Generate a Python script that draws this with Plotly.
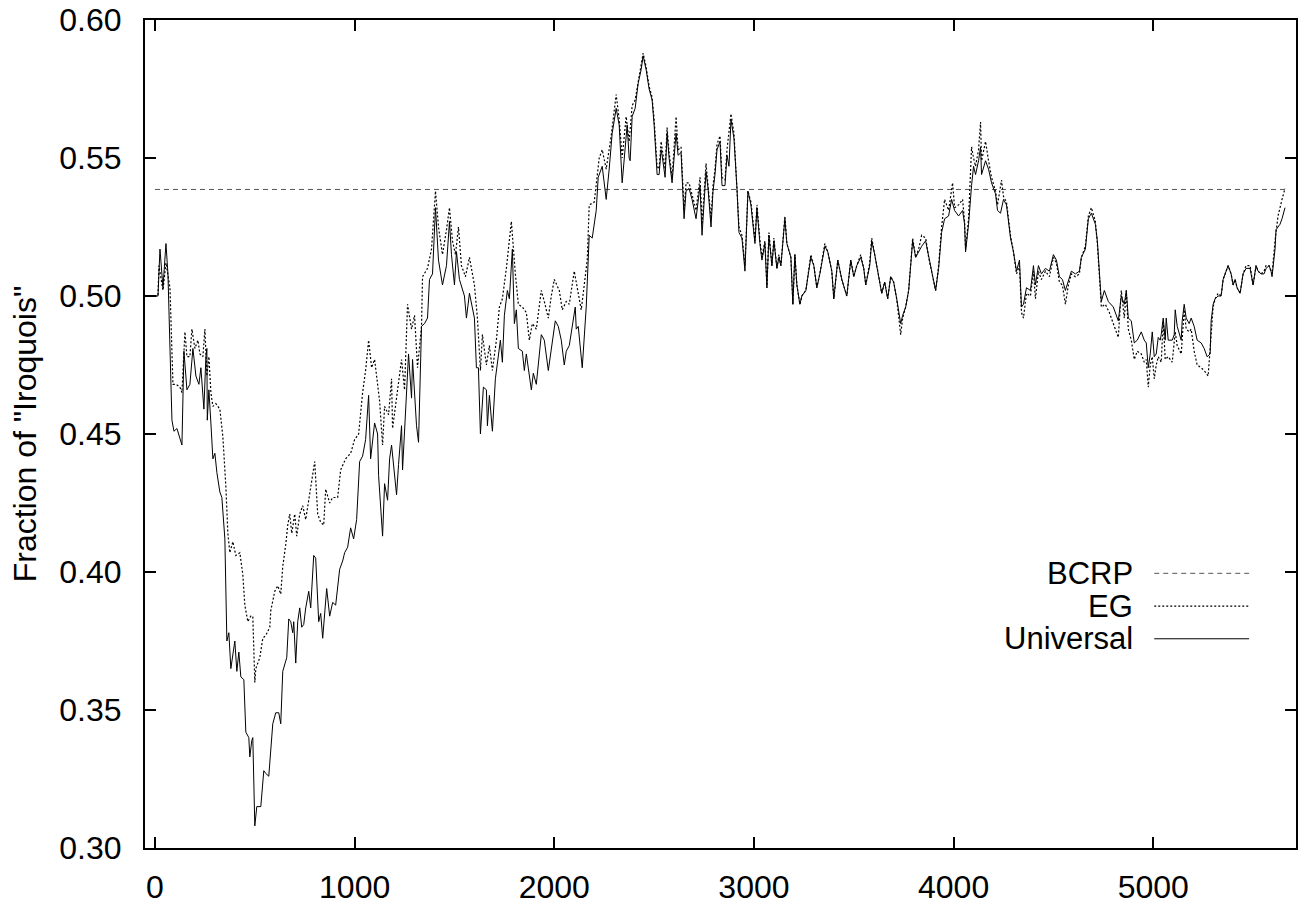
import plotly.graph_objects as go

# ---------------- data ----------------
bcrp_x = [0, 5660]
bcrp_y = [0.5386, 0.5386]

univ_x = [0, 15, 25, 40, 55, 65, 85, 95, 110, 135, 145, 160, 175, 190, 205, 220, 230, 245, 255, 260,
          262, 270, 280, 290, 300, 310, 325, 335, 350, 360, 370, 380, 400, 410, 420, 430, 445, 455, 470, 475,
          485, 490, 500, 510, 530, 545, 555, 570, 590, 605, 620, 630, 640, 660, 670, 680, 690, 695, 705, 715,
          725, 735, 745, 755, 770, 780, 795, 805, 820, 830, 840, 860, 875, 890, 905, 925, 940, 950, 965, 980,
          995, 1010, 1025, 1040, 1055, 1070, 1080, 1100, 1115, 1120, 1140, 1150, 1165, 1175, 1185, 1210, 1220, 1235, 1240, 1260,
          1270, 1285, 1290, 1310, 1320, 1335, 1350, 1365, 1375, 1390, 1405, 1420, 1440, 1460, 1475, 1485, 1500, 1510, 1525, 1550,
          1560, 1575, 1600, 1610, 1620, 1630, 1645, 1660, 1665, 1675, 1690, 1705, 1720, 1730, 1740, 1750, 1765, 1775, 1790, 1800,
          1810, 1820, 1840, 1850, 1860, 1885, 1895, 1910, 1935, 1950, 1970, 1990, 2005, 2020, 2035, 2050, 2060, 2075, 2105, 2110,
          2120, 2140, 2160, 2175, 2190, 2210, 2220, 2240, 2260, 2275, 2290, 2310, 2325, 2340, 2355, 2365, 2375, 2380, 2390, 2405,
          2420, 2435, 2445, 2460, 2475, 2490, 2500, 2515, 2525, 2535, 2540, 2555, 2565, 2575, 2590, 2610, 2620, 2635, 2650, 2660,
          2675, 2690, 2710, 2730, 2740, 2760, 2770, 2785, 2795, 2805, 2815, 2830, 2840, 2855, 2865, 2875, 2885, 2900, 2915, 2925,
          2940, 2955, 2970, 2985, 3005, 3015, 3030, 3040, 3055, 3065, 3075, 3090, 3100, 3115, 3125, 3135, 3155, 3165, 3185, 3195,
          3205, 3215, 3230, 3240, 3260, 3285, 3300, 3315, 3330, 3355, 3370, 3390, 3400, 3420, 3440, 3465, 3485, 3500, 3515, 3535,
          3550, 3560, 3580, 3590, 3605, 3620, 3640, 3655, 3670, 3685, 3700, 3715, 3735, 3745, 3760, 3775, 3795, 3810, 3825, 3840,
          3860, 3875, 3890, 3910, 3925, 3940, 3955, 3975, 3990, 4005, 4025, 4045, 4055, 4060, 4075, 4090, 4100, 4110, 4125, 4135,
          4140, 4160, 4175, 4190, 4210, 4220, 4235, 4250, 4265, 4285, 4300, 4315, 4330, 4340, 4350, 4365, 4385, 4400, 4410, 4425,
          4440, 4460, 4480, 4500, 4515, 4530, 4545, 4560, 4575, 4590, 4610, 4630, 4640, 4660, 4675, 4690, 4710, 4720, 4740, 4755,
          4775, 4800, 4825, 4840, 4855, 4865, 4875, 4890, 4905, 4920, 4940, 4955, 4965, 4975, 4985, 4995, 5005, 5015, 5025, 5035,
          5040, 5050, 5060, 5065, 5075, 5085, 5095, 5105, 5110, 5120, 5130, 5140, 5145, 5155, 5165, 5180, 5190, 5205, 5220, 5240,
          5255, 5270, 5285, 5290, 5300, 5310, 5325, 5340, 5350, 5360, 5375, 5390, 5400, 5410, 5420, 5435, 5450, 5465, 5485, 5500,
          5515, 5525, 5540, 5555, 5565, 5580, 5590, 5595, 5610, 5615, 5635, 5645, 5660]
univ_y = [0.500, 0.500, 0.517, 0.503, 0.519, 0.508, 0.455, 0.451, 0.452, 0.446, 0.480, 0.466, 0.468, 0.481, 0.471, 0.468, 0.474, 0.459, 0.478, 0.481,
          0.455, 0.466, 0.454, 0.441, 0.443, 0.436, 0.429, 0.427, 0.412, 0.375, 0.378, 0.365, 0.375, 0.364, 0.371, 0.362, 0.361, 0.342, 0.340, 0.333,
          0.339, 0.340, 0.308, 0.315, 0.315, 0.328, 0.327, 0.326, 0.345, 0.349, 0.349, 0.345, 0.364, 0.369, 0.383, 0.382, 0.378, 0.382, 0.367, 0.382,
          0.387, 0.380, 0.381, 0.387, 0.393, 0.387, 0.406, 0.405, 0.382, 0.385, 0.376, 0.394, 0.384, 0.389, 0.388, 0.401, 0.404, 0.407, 0.409, 0.416,
          0.412, 0.419, 0.440, 0.442, 0.448, 0.464, 0.441, 0.454, 0.450, 0.435, 0.413, 0.432, 0.426, 0.441, 0.446, 0.428, 0.439, 0.453, 0.437, 0.464,
          0.479, 0.463, 0.477, 0.453, 0.447, 0.489, 0.490, 0.492, 0.506, 0.508, 0.532, 0.513, 0.504, 0.511, 0.527, 0.515, 0.504, 0.516, 0.506, 0.500,
          0.492, 0.501, 0.492, 0.474, 0.474, 0.450, 0.467, 0.466, 0.453, 0.464, 0.451, 0.470, 0.478, 0.484, 0.476, 0.493, 0.502, 0.499, 0.517, 0.490,
          0.495, 0.481, 0.480, 0.473, 0.479, 0.466, 0.472, 0.468, 0.486, 0.484, 0.473, 0.484, 0.491, 0.489, 0.484, 0.475, 0.480, 0.482, 0.496, 0.488,
          0.489, 0.474, 0.496, 0.522, 0.521, 0.531, 0.543, 0.547, 0.535, 0.546, 0.559, 0.568, 0.562, 0.541, 0.554, 0.562, 0.550, 0.549, 0.565, 0.568,
          0.577, 0.582, 0.587, 0.582, 0.575, 0.571, 0.562, 0.544, 0.544, 0.553, 0.551, 0.543, 0.559, 0.550, 0.541, 0.559, 0.551, 0.552, 0.528, 0.538,
          0.539, 0.535, 0.528, 0.540, 0.522, 0.545, 0.539, 0.525, 0.538, 0.544, 0.553, 0.556, 0.540, 0.540, 0.551, 0.547, 0.564, 0.557, 0.539, 0.523,
          0.521, 0.509, 0.538, 0.533, 0.519, 0.532, 0.519, 0.513, 0.519, 0.503, 0.522, 0.511, 0.520, 0.510, 0.514, 0.511, 0.528, 0.519, 0.514, 0.497,
          0.515, 0.504, 0.497, 0.500, 0.502, 0.514, 0.511, 0.503, 0.508, 0.518, 0.516, 0.509, 0.499, 0.513, 0.506, 0.500, 0.513, 0.507, 0.511, 0.514,
          0.510, 0.504, 0.511, 0.520, 0.515, 0.509, 0.501, 0.505, 0.499, 0.507, 0.505, 0.499, 0.490, 0.493, 0.496, 0.502, 0.520, 0.514, 0.516, 0.518,
          0.520, 0.514, 0.509, 0.502, 0.510, 0.523, 0.528, 0.529, 0.535, 0.531, 0.529, 0.531, 0.526, 0.516, 0.526, 0.540, 0.547, 0.544, 0.549, 0.554,
          0.544, 0.549, 0.546, 0.541, 0.537, 0.531, 0.530, 0.535, 0.533, 0.521, 0.516, 0.509, 0.513, 0.496, 0.497, 0.503, 0.502, 0.511, 0.504, 0.511,
          0.508, 0.510, 0.509, 0.515, 0.513, 0.507, 0.506, 0.502, 0.506, 0.509, 0.508, 0.509, 0.514, 0.517, 0.528, 0.530, 0.526, 0.520, 0.498, 0.502,
          0.498, 0.496, 0.491, 0.500, 0.497, 0.502, 0.492, 0.491, 0.483, 0.484, 0.487, 0.484, 0.483, 0.474, 0.479, 0.487, 0.478, 0.479, 0.485, 0.484,
          0.486, 0.492, 0.484, 0.492, 0.484, 0.484, 0.484, 0.486, 0.495, 0.489, 0.486, 0.484, 0.491, 0.497, 0.492, 0.490, 0.492, 0.489, 0.484, 0.483,
          0.481, 0.478, 0.479, 0.491, 0.497, 0.499, 0.500, 0.500, 0.506, 0.508, 0.511, 0.508, 0.504, 0.506, 0.503, 0.501, 0.508, 0.510, 0.510, 0.504,
          0.511, 0.509, 0.508, 0.508, 0.510, 0.511, 0.509, 0.507, 0.517, 0.524, 0.526, 0.528, 0.532]

eg_x = [0, 15, 20, 40, 55, 75, 90, 105, 125, 135, 150, 160, 175, 185, 200, 215, 225, 240, 250, 260,
        270, 280, 290, 305, 325, 340, 355, 365, 375, 390, 405, 425, 440, 450, 465, 480, 490, 500, 505, 525,
        540, 555, 575, 580, 600, 615, 630, 640, 655, 665, 675, 685, 700, 710, 725, 740, 755, 775, 800, 815,
        830, 845, 855, 875, 890, 915, 930, 955, 980, 1000, 1020, 1040, 1055, 1070, 1085, 1100, 1125, 1140, 1150, 1170,
        1185, 1190, 1215, 1235, 1250, 1265, 1285, 1300, 1315, 1335, 1340, 1365, 1385, 1405, 1420, 1440, 1460, 1475, 1490, 1505,
        1520, 1535, 1555, 1575, 1600, 1615, 1630, 1640, 1660, 1675, 1690, 1710, 1725, 1740, 1760, 1785, 1805, 1820, 1840, 1860,
        1875, 1890, 1910, 1935, 1950, 1970, 1985, 2000, 2025, 2040, 2060, 2075, 2100, 2115, 2135, 2150, 2165, 2175, 2200, 2225,
        2240, 2260, 2285, 2310, 2325, 2340, 2360, 2375, 2390, 2405, 2420, 2435, 2445, 2460, 2475, 2490, 2500, 2515, 2525, 2535,
        2555, 2565, 2575, 2590, 2610, 2620, 2635, 2650, 2660, 2675, 2690, 2710, 2730, 2740, 2760, 2770, 2785, 2795, 2805, 2815,
        2830, 2840, 2855, 2865, 2885, 2900, 2915, 2925, 2940, 2955, 2970, 2985, 3005, 3015, 3030, 3040, 3055, 3065, 3075, 3090,
        3100, 3115, 3125, 3135, 3155, 3165, 3185, 3195, 3205, 3215, 3230, 3240, 3260, 3285, 3300, 3315, 3330, 3355, 3370, 3390,
        3400, 3420, 3440, 3465, 3485, 3500, 3515, 3535, 3550, 3560, 3580, 3590, 3605, 3620, 3640, 3655, 3670, 3685, 3700, 3715,
        3735, 3745, 3760, 3775, 3795, 3810, 3825, 3840, 3860, 3875, 3890, 3910, 3925, 3940, 3955, 3975, 3995, 4005, 4025, 4045,
        4055, 4060, 4075, 4090, 4100, 4110, 4125, 4135, 4140, 4160, 4175, 4190, 4210, 4220, 4240, 4250, 4265, 4285, 4300, 4315,
        4330, 4340, 4350, 4365, 4385, 4400, 4410, 4425, 4440, 4460, 4480, 4500, 4515, 4530, 4545, 4560, 4575, 4590, 4610, 4630,
        4640, 4660, 4675, 4690, 4710, 4720, 4740, 4760, 4780, 4800, 4825, 4840, 4855, 4865, 4875, 4890, 4905, 4920, 4940, 4955,
        4965, 4975, 4985, 4995, 5005, 5015, 5025, 5040, 5050, 5060, 5075, 5095, 5110, 5120, 5140, 5155, 5165, 5180, 5190, 5205,
        5220, 5240, 5255, 5275, 5285, 5300, 5310, 5325, 5340, 5350, 5360, 5375, 5390, 5400, 5410, 5420, 5435, 5450, 5465, 5485,
        5500, 5515, 5525, 5540, 5555, 5565, 5580, 5590, 5595, 5610, 5625, 5645, 5660]
eg_y = [0.500, 0.500, 0.511, 0.502, 0.512, 0.503, 0.468, 0.468, 0.467, 0.465, 0.487, 0.478, 0.478, 0.488, 0.481, 0.484, 0.479, 0.478, 0.488, 0.471,
        0.478, 0.465, 0.460, 0.461, 0.459, 0.449, 0.431, 0.414, 0.407, 0.411, 0.406, 0.407, 0.399, 0.388, 0.382, 0.384, 0.384, 0.360, 0.365, 0.369,
        0.376, 0.377, 0.380, 0.386, 0.393, 0.395, 0.392, 0.402, 0.410, 0.417, 0.421, 0.414, 0.421, 0.413, 0.421, 0.424, 0.419, 0.428, 0.440, 0.421,
        0.418, 0.417, 0.430, 0.425, 0.427, 0.427, 0.437, 0.441, 0.443, 0.448, 0.450, 0.465, 0.473, 0.484, 0.474, 0.477, 0.462, 0.446, 0.460, 0.457,
        0.470, 0.452, 0.466, 0.477, 0.466, 0.497, 0.488, 0.493, 0.474, 0.489, 0.507, 0.510, 0.517, 0.538, 0.525, 0.515, 0.524, 0.532, 0.520, 0.515,
        0.525, 0.511, 0.507, 0.514, 0.504, 0.492, 0.473, 0.486, 0.475, 0.482, 0.473, 0.484, 0.496, 0.499, 0.510, 0.527, 0.508, 0.497, 0.496, 0.494,
        0.484, 0.490, 0.488, 0.502, 0.498, 0.492, 0.500, 0.506, 0.502, 0.495, 0.498, 0.497, 0.509, 0.503, 0.495, 0.504, 0.513, 0.533, 0.534, 0.550,
        0.553, 0.546, 0.558, 0.573, 0.564, 0.550, 0.565, 0.556, 0.569, 0.571, 0.578, 0.584, 0.588, 0.583, 0.576, 0.572, 0.564, 0.547, 0.546, 0.556,
        0.546, 0.561, 0.552, 0.543, 0.565, 0.553, 0.554, 0.531, 0.541, 0.541, 0.537, 0.531, 0.543, 0.526, 0.548, 0.541, 0.528, 0.540, 0.546, 0.555,
        0.558, 0.543, 0.542, 0.553, 0.566, 0.559, 0.541, 0.525, 0.522, 0.511, 0.538, 0.534, 0.520, 0.533, 0.520, 0.514, 0.520, 0.503, 0.523, 0.511,
        0.521, 0.510, 0.515, 0.511, 0.529, 0.519, 0.514, 0.497, 0.515, 0.504, 0.497, 0.500, 0.502, 0.515, 0.511, 0.503, 0.508, 0.519, 0.516, 0.509,
        0.499, 0.513, 0.506, 0.500, 0.513, 0.507, 0.511, 0.515, 0.510, 0.504, 0.512, 0.521, 0.515, 0.509, 0.501, 0.505, 0.499, 0.507, 0.505, 0.499,
        0.486, 0.492, 0.496, 0.502, 0.521, 0.514, 0.517, 0.522, 0.521, 0.514, 0.509, 0.502, 0.511, 0.525, 0.535, 0.531, 0.541, 0.532, 0.533, 0.535,
        0.527, 0.517, 0.528, 0.554, 0.550, 0.547, 0.553, 0.563, 0.549, 0.556, 0.549, 0.543, 0.538, 0.533, 0.542, 0.536, 0.534, 0.522, 0.516, 0.508,
        0.511, 0.494, 0.492, 0.501, 0.500, 0.509, 0.499, 0.509, 0.506, 0.509, 0.507, 0.514, 0.512, 0.505, 0.504, 0.497, 0.504, 0.508, 0.507, 0.508,
        0.514, 0.518, 0.529, 0.532, 0.527, 0.519, 0.496, 0.497, 0.494, 0.490, 0.485, 0.502, 0.492, 0.502, 0.488, 0.484, 0.477, 0.480, 0.479, 0.476,
        0.477, 0.467, 0.475, 0.478, 0.470, 0.475, 0.478, 0.476, 0.491, 0.477, 0.478, 0.476, 0.487, 0.482, 0.479, 0.495, 0.488, 0.487, 0.488, 0.480,
        0.475, 0.474, 0.473, 0.471, 0.481, 0.496, 0.499, 0.501, 0.500, 0.506, 0.508, 0.511, 0.508, 0.504, 0.506, 0.503, 0.501, 0.508, 0.511, 0.511,
        0.504, 0.511, 0.509, 0.508, 0.509, 0.511, 0.511, 0.509, 0.508, 0.520, 0.529, 0.535, 0.539]

series_names = ["BCRP", "EG", "Universal"]
y_ticks = [0.30, 0.35, 0.40, 0.45, 0.50, 0.55, 0.60]
x_ticks = [0, 1000, 2000, 3000, 4000, 5000]

# ---------------- figure ----------------
FONT = "Liberation Sans, Arial, Helvetica, sans-serif"
dash_bcrp = "5px,4px"
dash_eg = "2px,2px"

fig = go.Figure()
fig.add_trace(go.Scatter(x=bcrp_x, y=bcrp_y, mode="lines", name=series_names[0],
                         line=dict(color="#555555", width=1, dash=dash_bcrp)))
fig.add_trace(go.Scatter(x=eg_x, y=eg_y, mode="lines", name=series_names[1],
                         line=dict(color="#000000", width=1.2, dash=dash_eg)))
fig.add_trace(go.Scatter(x=univ_x, y=univ_y, mode="lines", name=series_names[2],
                         line=dict(color="#000000", width=1)))

W, H = 1298, 905
ML, MR, MT, MB = 145, 0, 20, 50
pw, ph = W - ML - MR, H - MT - MB

def px2paper_x(px):
    return (px - ML) / pw

def px2paper_y(py):
    return (H - MB - py) / ph

# gnuplot-style key: text right-aligned, then line sample
key_rows = [(series_names[0], 578, "#555555", dash_bcrp, 1),
            (series_names[1], 611, "#000000", dash_eg, 1.2),
            (series_names[2], 644, "#000000", "solid", 1)]
for name, py, col, dsh, wd in key_rows:
    fig.add_annotation(x=px2paper_x(1136), y=px2paper_y(py), xref="paper", yref="paper",
                       text=name, showarrow=False, xanchor="right", yanchor="middle",
                       borderpad=0,
                       font=dict(family=FONT, size=31, color="black"))
    fig.add_shape(type="line", xref="paper", yref="paper",
                  x0=px2paper_x(1156), x1=px2paper_x(1251), y0=px2paper_y(py), y1=px2paper_y(py),
                  line=dict(color=col, width=wd, dash=dsh))

fig.update_layout(
    width=W, height=H,
    margin=dict(l=ML, r=MR, t=MT, b=MB, pad=0),
    paper_bgcolor="white", plot_bgcolor="white",
    showlegend=False,
    font=dict(family=FONT, size=32, color="black"),
)
fig.update_xaxes(range=[-50, 5715], tickvals=x_ticks, ticktext=[str(v) for v in x_ticks],
                 ticks="inside", ticklen=11, tickwidth=1.5, tickcolor="black",
                 showline=True, linewidth=2, linecolor="black", mirror="allticks",
                 showgrid=False, zeroline=False, ticklabelstandoff=10,
                 tickfont=dict(family=FONT, size=32, color="black"))
fig.update_yaxes(range=[0.30, 0.60], tickvals=y_ticks, ticktext=[f"{v:.2f}" for v in y_ticks],
                 ticks="inside", ticklen=11, tickwidth=1.5, tickcolor="black",
                 showline=True, linewidth=2, linecolor="black", mirror="allticks",
                 showgrid=False, zeroline=False, ticklabelstandoff=15,
                 tickfont=dict(family=FONT, size=32, color="black"),
                 title=dict(text='Fraction of "Iroquois"', standoff=13,
                            font=dict(family=FONT, size=32, color="black")))

fig.write_html("out.html",
               config={"displayModeBar": False},
               post_script="document.documentElement.style.margin='0';"
                           "document.body.style.margin='0';"
                           "document.body.style.overflow='hidden';")
